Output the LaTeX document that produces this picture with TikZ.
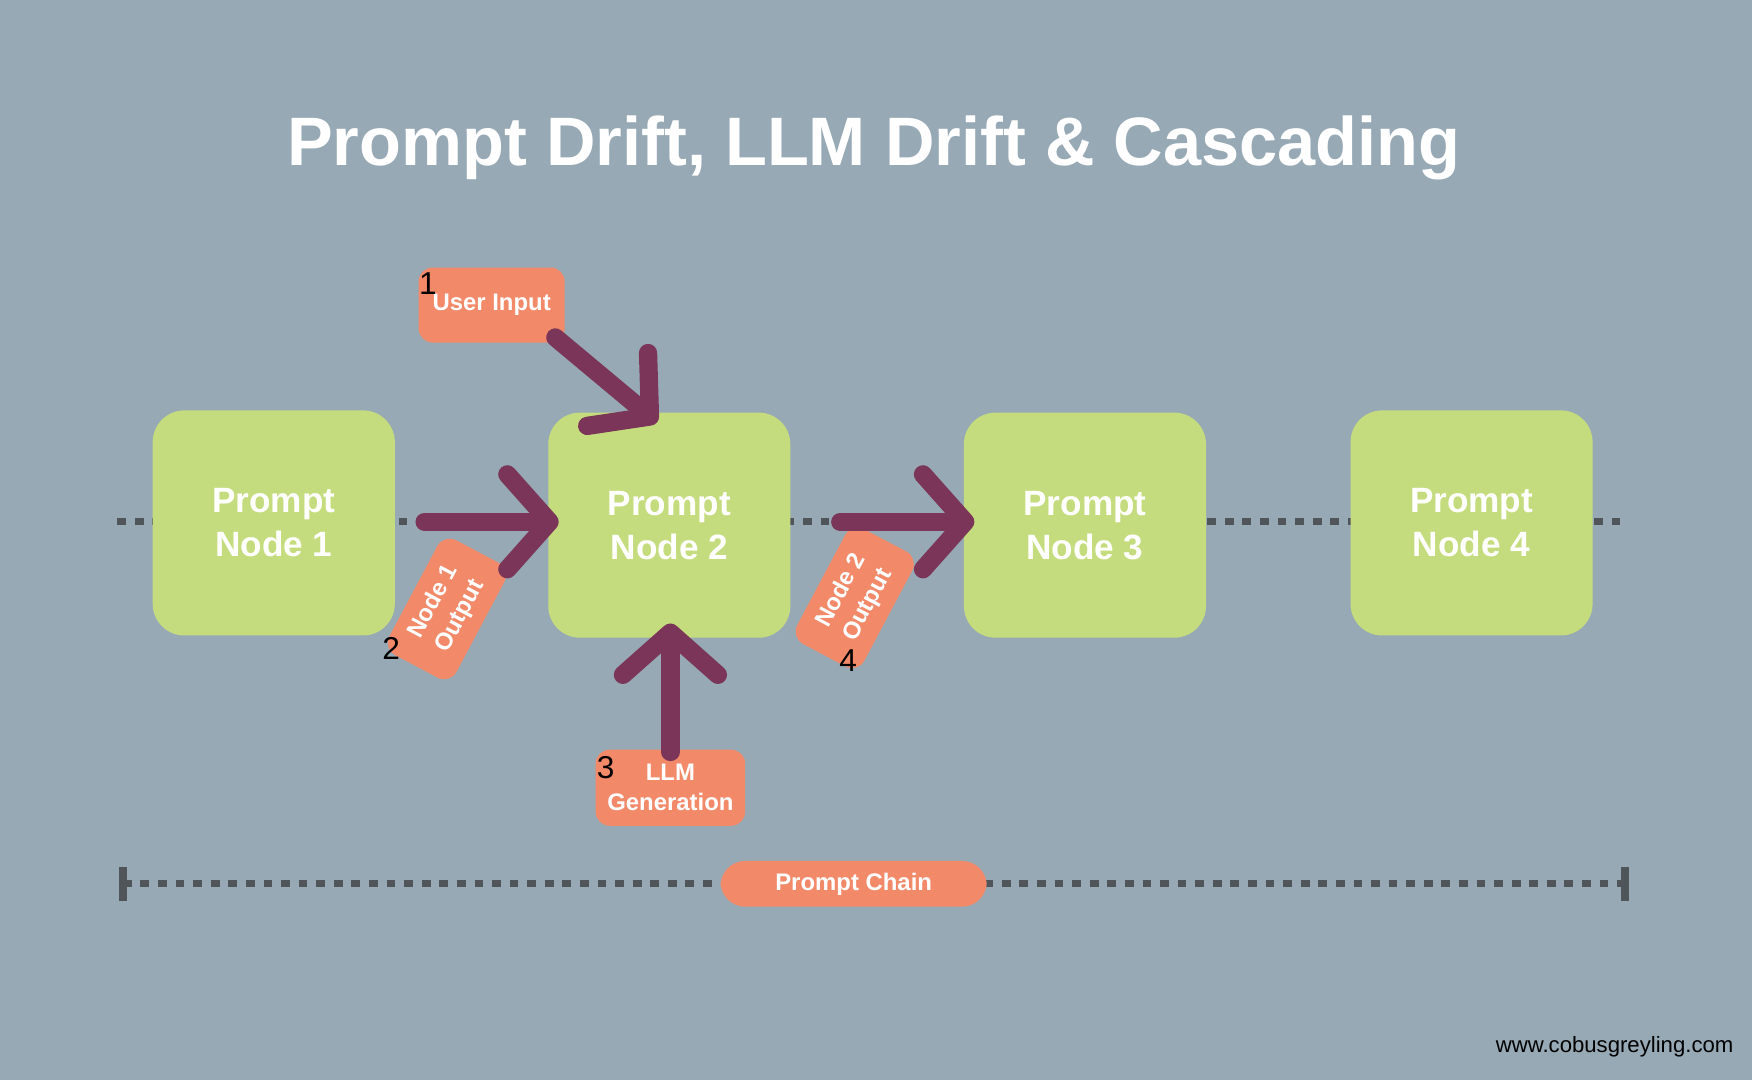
\documentclass[tikz,border=0pt]{standalone}
\usepackage{fontspec}
\setmainfont{Liberation Sans}
\usetikzlibrary{arrows.meta}
\definecolor{bg}{HTML}{97A9B4}
\definecolor{leaf}{HTML}{C5DC7E}
\definecolor{tag}{HTML}{F28A6A}
\definecolor{plum}{HTML}{7A3558}
\definecolor{dots}{HTML}{4F5558}
\begin{document}
\begin{tikzpicture}[x=0.01117cm, y=-0.01117cm,
box/.style={fill=leaf, rounded corners=9pt, minimum width=2.42cm, minimum height=2.25cm,
  text=white, font=\bfseries\fontsize{10}{12.5}\selectfont, align=center},
lbl/.style={fill=tag, rounded corners=4pt, text=white, font=\bfseries\fontsize{6.8}{8.6}\selectfont, align=center},
num/.style={font=\fontsize{9}{10}\selectfont, text=black},
push/.style={draw=plum, line width=5.2pt, line cap=round,
  -{Straight Barb[length=12pt,width=27pt,line cap=round,line join=round]}},
track/.style={draw=dots, line width=2pt, dash pattern=on 2.5pt off 2.5pt}]
\fill[bg] (0,0) rectangle (1568,967);
\useasboundingbox (0,0) rectangle (1568,967);
\node[text=white, font=\bfseries\fontsize{19.5}{23}\selectfont] at (782,132) {Prompt Drift, LLM Drift \& Cascading};
% dotted chain
\coordinate (l) at (105,467);
\coordinate (r) at (1456,467);
\draw[track] (l) -- (r);
\node[box] (n1) at (245,468) {Prompt\\Node 1};
\node[box] (n2) at (599,470) {Prompt\\Node 2};
\node[box] (n3) at (971,470) {Prompt\\Node 3};
\node[box] (n4) at (1317,468) {Prompt\\Node 4};
% labels
\node[lbl, minimum width=1.46cm, minimum height=0.75cm] (ui) at (440,273) {User Input};
\node[num] at (383,254) {1};
\node[lbl, minimum width=1.3cm, minimum height=0.62cm, rotate=62] (o1) at (400,545) {Node 1\\Output};
\node[num] at (350,580) {2};
\node[lbl, minimum width=1.46cm, minimum height=0.76cm] (llm) at (600,705) {LLM\\Generation};
\node[num] at (542,687) {3};
\node[lbl, minimum width=1.3cm, minimum height=0.62cm, rotate=62] (o2) at (765,535) {Node 2\\Output};
\node[num] at (759,591) {4};
% arrows
\coordinate (a1) at (497,302);
\coordinate (b1) at (588,378);
\draw[push] (a1) -- (b1);
\coordinate (a2) at (380,467);
\coordinate (b2) at (500,467);
\draw[push] (a2) -- (b2);
\coordinate (a3) at (600,673);
\coordinate (b3) at (600,558);
\draw[push] (a3) -- (b3);
\coordinate (a4) at (752,467);
\coordinate (b4) at (872,467);
\draw[push] (a4) -- (b4);
% chain span
\coordinate (s) at (110,791);
\coordinate (e) at (1454,791);
\draw[track] (s) -- (e);
\draw[dots, line width=2.2pt] (110,776) -- (110,806) (1454,776) -- (1454,806);
\node[lbl, rounded corners=7pt, minimum width=2.66cm, minimum height=0.45cm] (pc) at (764,791) {Prompt Chain};
\node[font=\fontsize{6.3}{8}\selectfont, text=black] at (1445,937) {www.cobusgreyling.com};
\end{tikzpicture}
\end{document}
